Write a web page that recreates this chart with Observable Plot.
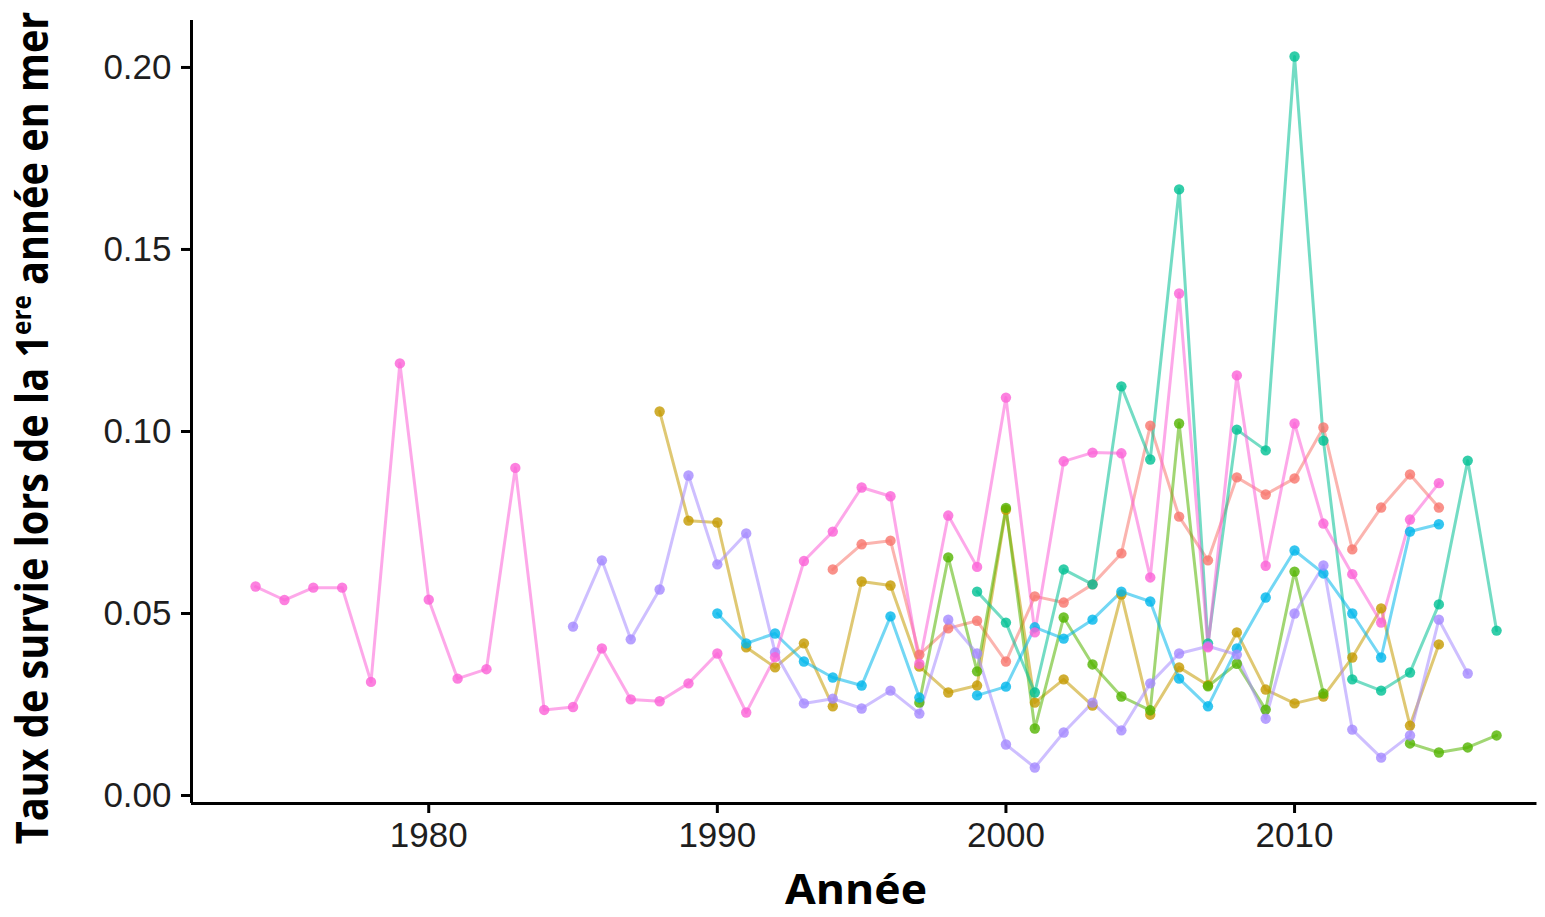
<!DOCTYPE html>
<html><head><meta charset="utf-8">
<script src="https://cdn.jsdelivr.net/npm/d3@7"></script>
<script src="https://cdn.jsdelivr.net/npm/@observablehq/plot@0.6"></script>
<style>
body{margin:0;background:#fff}
#chart{width:1545px;height:917px;overflow:hidden;position:relative}
</style>
</head><body><div id="chart"></div>
<script>
const years = [1974,1975,1976,1977,1978,1979,1980,1981,1982,1983,1984,1985,1986,1987,1988,1989,1990,1991,1992,1993,1994,1995,1996,1997,1998,1999,2000,2001,2002,2003,2004,2005,2006,2007,2008,2009,2010,2011,2012,2013,2014,2015,2016,2017];

const serieA = [null,null,null,null,null,null,null,null,null,null,null,null,null,null,null,null,null,null,null,null,
  0.0621,0.0690,0.0700,0.0387,0.0459,0.0480,0.0368,0.0547,0.0530,0.0580,0.0665,0.1016,0.0766,0.0646,0.0874,0.0827,0.0871,0.1011,0.0676,0.0791,0.0882,0.0791,null,null];
const serieB = [null,null,null,null,null,null,null,null,null,null,null,null,null,null,
  0.1055,0.0755,0.0750,0.0407,0.0352,0.0418,0.0245,0.0588,0.0577,0.0354,0.0283,0.0302,0.0785,0.0255,0.0319,0.0247,0.0552,0.0222,0.0352,0.0303,0.0448,0.0291,0.0253,0.0272,0.0379,0.0514,0.0192,0.0415,null,null];
const serieC = [null,null,null,null,null,null,null,null,null,null,null,null,null,null,null,null,null,null,null,null,null,null,null,
  0.0255,0.0654,0.0341,0.0790,0.0184,0.0489,0.0360,0.0272,0.0234,0.1022,0.0300,0.0362,0.0236,0.0615,0.0280,null,null,0.0143,0.0118,0.0132,0.0165];
const serieD = [null,null,null,null,null,null,null,null,null,null,null,null,null,null,null,null,null,null,null,null,null,null,null,null,null,
  0.0560,0.0475,0.0283,0.0621,0.0580,0.1124,0.0923,0.1665,0.0418,0.1005,0.0948,0.2030,0.0975,0.0319,0.0288,0.0338,0.0525,0.0920,0.0453];
const serieE = [null,null,null,null,null,null,null,null,null,null,null,null,null,null,null,null,
  0.0500,0.0418,0.0445,0.0368,0.0324,0.0302,0.0492,0.0269,null,0.0275,0.0299,0.0462,0.0431,0.0483,0.0560,0.0533,0.0321,0.0245,0.0404,0.0544,0.0673,0.0610,0.0500,0.0379,0.0725,0.0745,null,null];
const serieF = [null,null,null,null,null,null,null,null,null,null,null,
  0.0464,0.0646,0.0429,0.0566,0.0879,0.0635,0.0720,0.0393,0.0253,0.0266,0.0239,0.0288,0.0225,0.0483,0.0390,0.0140,0.0077,0.0173,0.0255,0.0179,0.0308,0.0390,0.0410,0.0387,0.0211,0.0500,0.0632,0.0181,0.0104,0.0165,0.0483,0.0335,null];
const serieG = [0.0574,0.0537,0.0571,0.0571,0.0312,0.1187,0.0538,0.0321,0.0347,0.0900,0.0235,0.0243,0.0404,0.0264,0.0259,0.0308,0.0390,0.0228,0.0380,0.0644,0.0725,0.0846,0.0822,0.0362,0.0769,0.0628,0.1093,0.0448,0.0918,0.0942,0.0940,0.0599,0.1379,0.0407,0.1154,0.0631,0.1022,0.0747,0.0608,0.0475,0.0758,0.0858,null,null];

const seriesNames = ["A","B","C","D","E","F","G"];
const seriesValues = [serieA, serieB, serieC, serieD, serieE, serieF, serieG];
const seriesColors = ["#F8766D","#C49A00","#53B400","#00C094","#00B6EB","#A58AFF","#FB61D7"];
const xTicks = [1980,1990,2000,2010];
const yTicks = [0,0.05,0.10,0.15,0.20];

const rows = [];
seriesValues.forEach((vals, i) => vals.forEach((v, j) => rows.push({serie: seriesNames[i], year: years[j], value: v})));
const pts = rows.filter(d => d.value != null);

const xDom = [1971.78, 2018.695];
const yDom = [-0.0022, 0.2129];

const chart = Plot.plot({
  width: 1545, height: 917,
  marginLeft: 191, marginRight: 0, marginTop: 20, marginBottom: 114,
  style: {fontFamily: "'Liberation Sans', Arial, sans-serif", fontSize: "35px", background: "#fff", color: "#1e1e1e", overflow: "visible"},
  x: {domain: xDom},
  y: {domain: yDom},
  color: {domain: seriesNames, range: seriesColors},
  marks: [
    Plot.line(rows, {x: "year", y: "value", z: "serie", stroke: "serie", strokeWidth: 3, strokeOpacity: 0.55}),
    Plot.dot(pts, {x: "year", y: "value", fill: "serie", r: 5.2, fillOpacity: 0.8, stroke: "none"}),
    Plot.axisX({ticks: xTicks, tickFormat: d => String(d), tickSize: 10, tickPadding: 9, label: null, fontSize: 35, strokeWidth: 3, stroke: "#000"}),
    Plot.axisY({ticks: yTicks, tickFormat: d3.format(".2f"), tickSize: 10, tickPadding: 10, label: null, fontSize: 35, strokeWidth: 3, stroke: "#000"}),
    Plot.ruleX([xDom[0]], {stroke: "#000", strokeWidth: 3, y1: yDom[0], y2: yDom[1]}),
    Plot.ruleY([yDom[0]], {stroke: "#000", strokeWidth: 3, x1: xDom[0], x2: 2018.4})
  ]
});
document.getElementById("chart").appendChild(chart);

const svg = d3.select(chart);
// y title
const yt = svg.append("text")
  .attr("text-anchor", "middle")
  .attr("font-family", "'Open Sans', sans-serif")
  .attr("font-weight", "bold")
  .attr("font-size", 44)
  .attr("fill", "#000");
yt.append("tspan").text("Taux de survie lors de la 1");
yt.append("tspan").attr("font-size", 27).attr("dy", -17).text("ere");
yt.append("tspan").attr("dy", 17).text(" année en mer");
const yLen = yt.node().getComputedTextLength();
const ky = 833 / yLen;
yt.attr("transform", `translate(48,428) rotate(-90) scale(${ky},1)`);

// x title
const xt = svg.append("text")
  .attr("text-anchor", "middle")
  .attr("font-family", "'Open Sans', sans-serif")
  .attr("font-weight", "bold")
  .attr("font-size", 42)
  .attr("fill", "#000")
  .text("Année");
const xLen = xt.node().getComputedTextLength();
const kx = 142 / xLen;
xt.attr("transform", `translate(856,904) scale(${kx},1)`);
</script>
</body></html>
